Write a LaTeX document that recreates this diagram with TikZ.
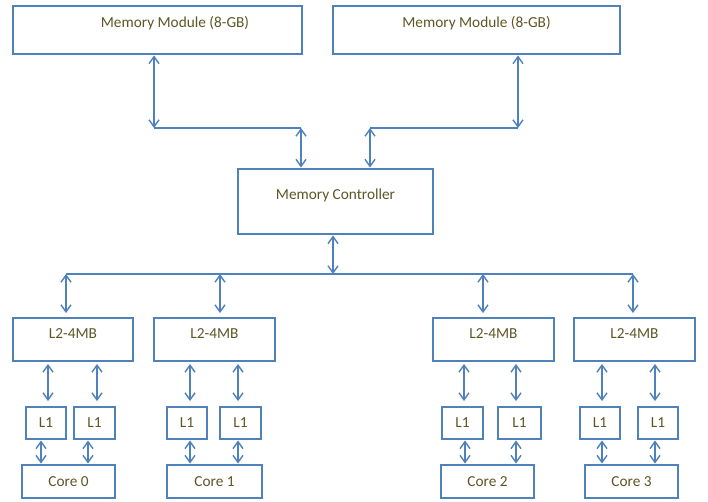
\documentclass[tikz,border=0pt]{standalone}
\usepackage{fontspec}
\setmainfont{Carlito}
\usetikzlibrary{arrows.meta,calc}
\definecolor{boxblue}{HTML}{4F81BD}
\definecolor{txtolive}{HTML}{5E5626}
\begin{document}
\begin{tikzpicture}[x=1pt,y=-1pt,
  box/.style={draw=boxblue,line width=2.9pt,fill=white,inner sep=0pt,rectangle},
  lbl/.style={text=txtolive,font=\fontsize{15.3}{17}\selectfont,inner sep=0pt},
  conn/.style={draw=boxblue,line width=1.4pt},
  dbl/.style={conn,{Straight Barb[length=7pt,width=10pt]}-{Straight Barb[length=7pt,width=10pt]}}]
\fill[white] (0,0) rectangle (708,502);
\useasboundingbox (0,0) rectangle (708,502);
% memory modules and controller
\node[box,minimum width=289pt,minimum height=48pt,label={[lbl,xshift=17.5pt,yshift=7pt]center:Memory Module (8-GB)}] (mm1) at (157.5,30) {};
\node[box,minimum width=287pt,minimum height=48pt,label={[lbl,yshift=7pt]center:Memory Module (8-GB)}] (mm2) at (476.5,30) {};
\node[box,minimum width=195pt,minimum height=65pt,label={[lbl,yshift=6.5pt]center:Memory Controller}] (mc) at (335.5,201.5) {};
% L2 caches
\foreach \n/\x/\w in {l2a/73/120,l2b/214.5/121,l2c/493.5/121,l2d/634.5/121}
  \node[box,minimum width=\w pt,minimum height=43pt,label={[lbl,yshift=5.5pt]center:L2-4MB}] (\n) at (\x,339.5) {};
% L1 caches
\foreach \n/\x/\w in {l1a1/46/40,l1a2/94.5/41,l1b1/187/40,l1b2/240.5/41,l1c1/462.5/41,l1c2/519.5/43,l1d1/600/40,l1d2/658/40}
  \node[box,minimum width=\w pt,minimum height=32pt,lbl] (\n) at (\x,423) {L1};
% cores
\node[box,minimum width=93pt,minimum height=33pt,lbl] (c0) at (68.5,481.5) {Core 0};
\node[box,minimum width=95pt,minimum height=33pt,lbl] (c1) at (214.5,481.5) {Core 1};
\node[box,minimum width=93pt,minimum height=33pt,lbl] (c2) at (487.5,481.5) {Core 2};
\node[box,minimum width=93pt,minimum height=33pt,lbl] (c3) at (631.5,481.5) {Core 3};
% junctions
\coordinate (j1) at (154,128);
\coordinate (j2) at (301,128);
\coordinate (j3) at (370,128);
\coordinate (j4) at (518,128);
\coordinate (bm) at (333,274);
\coordinate (b0) at (66,274);
\coordinate (b1) at (220,274);
\coordinate (b2) at (483,274);
\coordinate (b3) at (633,274);
% memory connections
\draw[dbl] (mm1.south -| j1) -- (j1);
\draw[conn] (j1) -- (j2);
\draw[dbl] (j2) -- (mc.north -| j2);
\draw[dbl] (mm2.south -| j4) -- (j4);
\draw[conn] (j4) -- (j3);
\draw[dbl] (j3) -- (mc.north -| j3);
% bus
\draw[dbl] (mc.south -| bm) -- (bm);
\draw[conn] (b0) -- (b3);
\draw[dbl,shorten >=3.5pt] (b0) -- (l2a.north -| b0);
\draw[dbl,shorten >=3.5pt] (b1) -- (l2b.north -| b1);
\draw[dbl,shorten >=3.5pt] (b2) -- (l2c.north -| b2);
\draw[dbl,shorten >=3.5pt] (b3) -- (l2d.north -| b3);
% L2 to L1
\foreach \l/\m/\x in {l2a/l1a1/48,l2a/l1a2/97,l2b/l1b1/190,l2b/l1b2/238,l2c/l1c1/464,l2c/l1c2/516,l2d/l1d1/602,l2d/l1d2/655}{
  \coordinate (xx) at (\x,0);
  \draw[dbl,shorten <=1.5pt,shorten >=4.5pt] (\l.south -| xx) -- (\m.north -| xx);
}
% L1 to cores
\foreach \m/\c/\x in {l1a1/c0/41,l1a2/c0/88,l1b1/c1/190,l1b2/c1/238,l1c1/c2/465,l1c2/c2/516,l1d1/c3/602,l1d2/c3/655}{
  \coordinate (xx) at (\x,0);
  \draw[dbl] (\m.south -| xx) -- (\c.north -| xx);
}
\end{tikzpicture}
\end{document}
